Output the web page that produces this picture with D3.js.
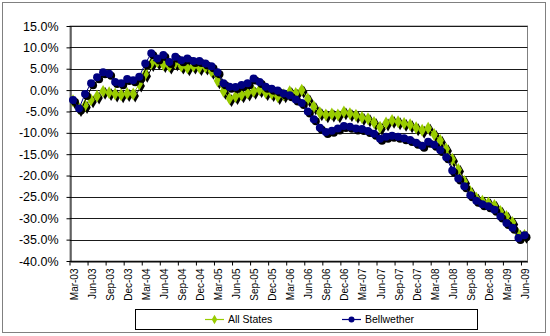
<!DOCTYPE html>
<html><head><meta charset="utf-8">
<script src="https://cdn.jsdelivr.net/npm/d3@7"></script>
<style>body{margin:0;background:#fff}svg{display:block}text{font-family:Arial,"Liberation Sans",sans-serif}</style>
</head><body><svg id="c" width="550" height="336"></svg>
<script>
const months = ["Mar-03","Apr-03","May-03","Jun-03","Jul-03","Aug-03","Sep-03","Oct-03","Nov-03","Dec-03",
"Jan-04","Feb-04","Mar-04","Apr-04","May-04","Jun-04","Jul-04","Aug-04","Sep-04","Oct-04","Nov-04","Dec-04",
"Jan-05","Feb-05","Mar-05","Apr-05","May-05","Jun-05","Jul-05","Aug-05","Sep-05","Oct-05","Nov-05","Dec-05",
"Jan-06","Feb-06","Mar-06","Apr-06","May-06","Jun-06","Jul-06","Aug-06","Sep-06","Oct-06","Nov-06","Dec-06",
"Jan-07","Feb-07","Mar-07","Apr-07","May-07","Jun-07","Jul-07","Aug-07","Sep-07","Oct-07","Nov-07","Dec-07",
"Jan-08","Feb-08","Mar-08","Apr-08","May-08","Jun-08","Jul-08","Aug-08","Sep-08","Oct-08","Nov-08","Dec-08",
"Jan-09","Feb-09","Mar-09","Apr-09","May-09","Jun-09"];
const allStates = [-2.5,-4.3,-3.6,-2.3,-1.4,-0.3,-0.6,-0.9,-1.1,-0.8,-0.9,1.4,
 3.7,6.2,6.6,6.0,5.6,6.4,5.6,5.2,5.6,5.3,5.4,4.4,
 2.2,-0.3,-2.0,-1.5,-1.1,-0.7,-0.3,0.1,-0.6,-0.8,-1.5,-1.1,
 -0.4,-0.8,0.0,-2.1,-3.9,-5.3,-5.8,-5.6,-5.8,-5.1,-5.5,-5.9,
 -6.4,-6.7,-7.6,-8.7,-7.7,-7.1,-7.4,-7.8,-8.1,-8.8,-9.4,-8.9,
 -10.4,-11.8,-13.8,-16.2,-18.6,-21.4,-23.8,-25.3,-26.0,-26.4,-27.0,-28.4,
 -29.6,-31.0,-33.8,-34.0];
const bellwether = [-2.3,-4.3,-0.9,1.6,3.0,4.2,3.8,1.9,1.6,2.6,2.3,3.1,
 6.2,8.6,7.4,8.2,6.6,7.8,7.0,7.4,6.8,6.8,6.2,5.6,
 4.2,1.6,0.8,0.7,1.2,1.6,2.7,1.9,0.8,0.3,-0.1,-0.8,
 -1.2,-2.2,-3.0,-5.0,-6.8,-8.8,-9.8,-9.5,-9.0,-8.4,-8.6,-9.0,
 -9.1,-9.6,-10.2,-11.4,-10.9,-10.7,-10.9,-11.3,-11.7,-12.3,-13.0,-12.1,
 -12.8,-14.0,-15.7,-18.8,-20.7,-22.5,-24.6,-25.9,-26.7,-27.2,-28.0,-29.6,
 -31.1,-32.2,-34.6,-34.0];
const yTicks = [15,10,5,0,-5,-10,-15,-20,-25,-30,-35,-40];
const seriesNames = ["All States","Bellwether"];
const seriesColors = ["#99CC00","#000080"];

const svg = d3.select("#c");
const L = 70, R = 527.5, T = 26, B = 261;
const x = d3.scaleBand().domain(months).range([L, R]).paddingInner(0).paddingOuter(0);
const y = d3.scaleLinear().domain([-40, 15]).range([B, T]);
const cx = d => x(d) + x.bandwidth() / 2;

// outer frame
svg.append("rect").attr("x", 2.5).attr("y", 2.5).attr("width", 543).attr("height", 330)
  .attr("fill", "#fff").attr("stroke", "#808080").attr("stroke-width", 1);

// plot area border
svg.append("rect").attr("x", L).attr("y", T).attr("width", R - L).attr("height", B - T)
  .attr("fill", "#fff").attr("stroke", "#808080").attr("stroke-width", 1);

// gridlines
svg.append("g").selectAll("line").data(yTicks).join("line")
  .attr("x1", L).attr("x2", R)
  .attr("y1", d => Math.round(y(d)) + 0.5).attr("y2", d => Math.round(y(d)) + 0.5)
  .attr("stroke", "#1a1a1a").attr("stroke-width", 1);

// y axis
const yAxis = d3.axisLeft(y).tickValues(yTicks).tickSize(4).tickSizeOuter(0)
  .tickFormat(d => d.toFixed(1) + "%");
const gy = svg.append("g").attr("transform", `translate(${L + 0.5},0)`).call(yAxis);
gy.select(".domain").attr("stroke", "#000");
gy.selectAll(".tick line").attr("stroke", "#000");
gy.selectAll(".tick text").attr("font-size", 12.5).attr("fill", "#000").attr("x", -12)
  .attr("font-family", "Arial, 'Liberation Sans', sans-serif");

// x axis
const xAxis = d3.axisBottom(x).tickValues(months.filter((d, i) => i % 3 === 0)).tickSize(4).tickSizeOuter(0);
const gx = svg.append("g").attr("transform", `translate(0,${B + 0.5})`).call(xAxis);
gx.select(".domain").attr("stroke", "#000");
gx.selectAll(".tick").attr("transform", d => `translate(${x(d)},0)`);
gx.selectAll(".tick line").attr("stroke", "#000");
gx.selectAll(".tick text")
  .attr("font-size", 10).attr("fill", "#000")
  .attr("font-family", "Arial, 'Liberation Sans', sans-serif")
  .attr("text-anchor", "end")
  .attr("transform", `translate(${x.bandwidth()/2 + 1},7) rotate(-90)`)
  .attr("x", 0).attr("y", 0).attr("dy", "0.35em");

// series
const sets = [allStates, bellwether];
const diamond = d3.symbol().type(d3.symbolDiamond).size(48);
const sh = 2;
sets.forEach((vals, si) => {
  const pts = months.map((m, i) => [cx(m), y(vals[i])]);
  const line = d3.line();
  const g = svg.append("g");
  // shadow
  g.append("path").attr("d", line(pts)).attr("fill", "none").attr("stroke", "#000")
    .attr("stroke-width", 1).attr("transform", `translate(${sh},${sh})`);
  if (si === 0) {
    g.selectAll(".s").data(pts).join("path").attr("d", diamond)
      .attr("transform", p => `translate(${p[0] + sh},${p[1] + sh})`).attr("fill", "#000");
  } else {
    g.selectAll(".s").data(pts).join("circle").attr("cx", p => p[0] + sh).attr("cy", p => p[1] + sh)
      .attr("r", 4).attr("fill", "#000");
  }
  g.append("path").attr("d", line(pts)).attr("fill", "none").attr("stroke", seriesColors[si]).attr("stroke-width", 1);
  if (si === 0) {
    g.selectAll(".m").data(pts).join("path").attr("d", diamond)
      .attr("transform", p => `translate(${p[0]},${p[1]})`).attr("fill", seriesColors[si]);
  } else {
    g.selectAll(".m").data(pts).join("circle").attr("cx", p => p[0]).attr("cy", p => p[1])
      .attr("r", 4).attr("fill", seriesColors[si]);
  }
});

// legend
const lg = svg.append("g");
lg.append("rect").attr("x", 135.5).attr("y", 309.5).attr("width", 342).attr("height", 20)
  .attr("fill", "#fff").attr("stroke", "#000").attr("stroke-width", 1);
const legendX = [205, 342];
seriesNames.forEach((n, i) => {
  const lx = legendX[i], ly = 319.5;
  lg.append("line").attr("x1", lx).attr("x2", lx + 19).attr("y1", ly).attr("y2", ly)
    .attr("stroke", seriesColors[i]).attr("stroke-width", 1.2);
  if (i === 0) lg.append("path").attr("d", d3.symbol().type(d3.symbolDiamond).size(26))
    .attr("transform", `translate(${lx + 9.5},${ly})`).attr("fill", seriesColors[i]);
  else lg.append("circle").attr("cx", lx + 9.5).attr("cy", ly).attr("r", 3).attr("fill", seriesColors[i]);
  lg.append("text").attr("x", lx + 23).attr("y", ly).attr("dy", "0.36em")
    .attr("font-size", 10.5).attr("fill", "#000").text(n);
});
</script></body></html>
